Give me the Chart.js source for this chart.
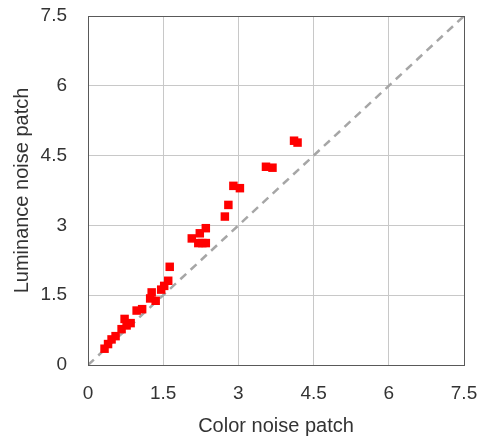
<!DOCTYPE html>
<html><head><meta charset="utf-8">
<script src="https://cdn.jsdelivr.net/npm/chart.js@4/dist/chart.umd.min.js"></script>
<style>html,body{margin:0;padding:0;background:#fff;}canvas{display:block;}</style>
</head><body>
<canvas id="c" width="481" height="438"></canvas>
<script>
const colorNoise = [0.33,0.40,0.47,0.55,0.67,0.77,0.73,0.85,0.97,1.08,1.24,1.35,1.27,1.46,1.52,1.60,1.63,2.07,2.20,2.23,2.28,2.35,2.35,2.73,2.80,2.90,3.03,3.55,3.68,4.11,4.18];
const lumNoise   = [0.35,0.45,0.55,0.62,0.77,0.85,0.99,0.90,1.17,1.20,1.43,1.38,1.56,1.62,1.70,1.81,2.11,2.72,2.62,2.83,2.62,2.62,2.94,3.19,3.44,3.85,3.80,4.26,4.24,4.82,4.78];
const diagonal = [0, 7.5];
const axisMin = 0, axisMax = 7.5, axisStep = 1.5;
const xTitle = 'Color noise patch';
const yTitle = 'Luminance noise patch';

const FONT = '"Liberation Sans", Arial, sans-serif';
const borderPlugin = {
  id: 'plotBorder',
  afterDraw(chart) {
    const a = chart.chartArea, ctx = chart.ctx;
    ctx.save();
    ctx.strokeStyle = '#595959';
    ctx.lineWidth = 1;
    ctx.strokeRect(Math.round(a.left) + 0.5, Math.round(a.top) + 0.5, Math.round(a.right - a.left), Math.round(a.bottom - a.top));
    ctx.restore();
  }
};

new Chart(document.getElementById('c'), {
  type: 'scatter',
  data: {
    datasets: [
      {
        data: colorNoise.map((x, i) => ({x: x, y: lumNoise[i]})),
        backgroundColor: '#ff0000',
        borderColor: '#ff0000',
        borderWidth: 0,
        pointStyle: 'rect',
        pointRadius: 6,
        order: 1
      },
      {
        type: 'line',
        data: diagonal.map(v => ({x: v, y: v})),
        borderColor: '#a6a6a6',
        borderWidth: 2.5,
        borderDash: [8, 6],
        pointRadius: 0,
        fill: false,
        order: 2
      }
    ]
  },
  options: {
    responsive: false,
    animation: false,
    events: [],
    layout: { padding: { left: 0, top: 16, right: 17, bottom: 0 } },
    plugins: { legend: { display: false }, tooltip: { enabled: false } },
    scales: {
      x: {
        type: 'linear', min: axisMin, max: axisMax,
        ticks: { stepSize: axisStep, color: '#333', font: { family: FONT, size: 19 }, padding: 17, maxRotation: 0 },
        grid: { color: '#c8c8c8', drawTicks: false, lineWidth: 1 },
        border: { display: false },
        title: { display: true, text: xTitle, color: '#333', font: { family: FONT, size: 20 }, padding: { top: 0, bottom: 0 } },
        afterFit(s) { s.height = 73; s.paddingLeft = 0; s.paddingRight = 0; }
      },
      y: {
        type: 'linear', min: axisMin, max: axisMax,
        ticks: { stepSize: axisStep, color: '#333', font: { family: FONT, size: 19 }, padding: 21 },
        grid: { color: '#c8c8c8', drawTicks: false, lineWidth: 1 },
        border: { display: false },
        title: { display: true, text: yTitle, color: '#333', font: { family: FONT, size: 20 }, padding: { top: 10, bottom: 0 } },
        afterFit(s) { s.width = 88; s.paddingTop = 0; s.paddingBottom = 0; }
      }
    }
  },
  plugins: [borderPlugin]
});
</script>
</body></html>
